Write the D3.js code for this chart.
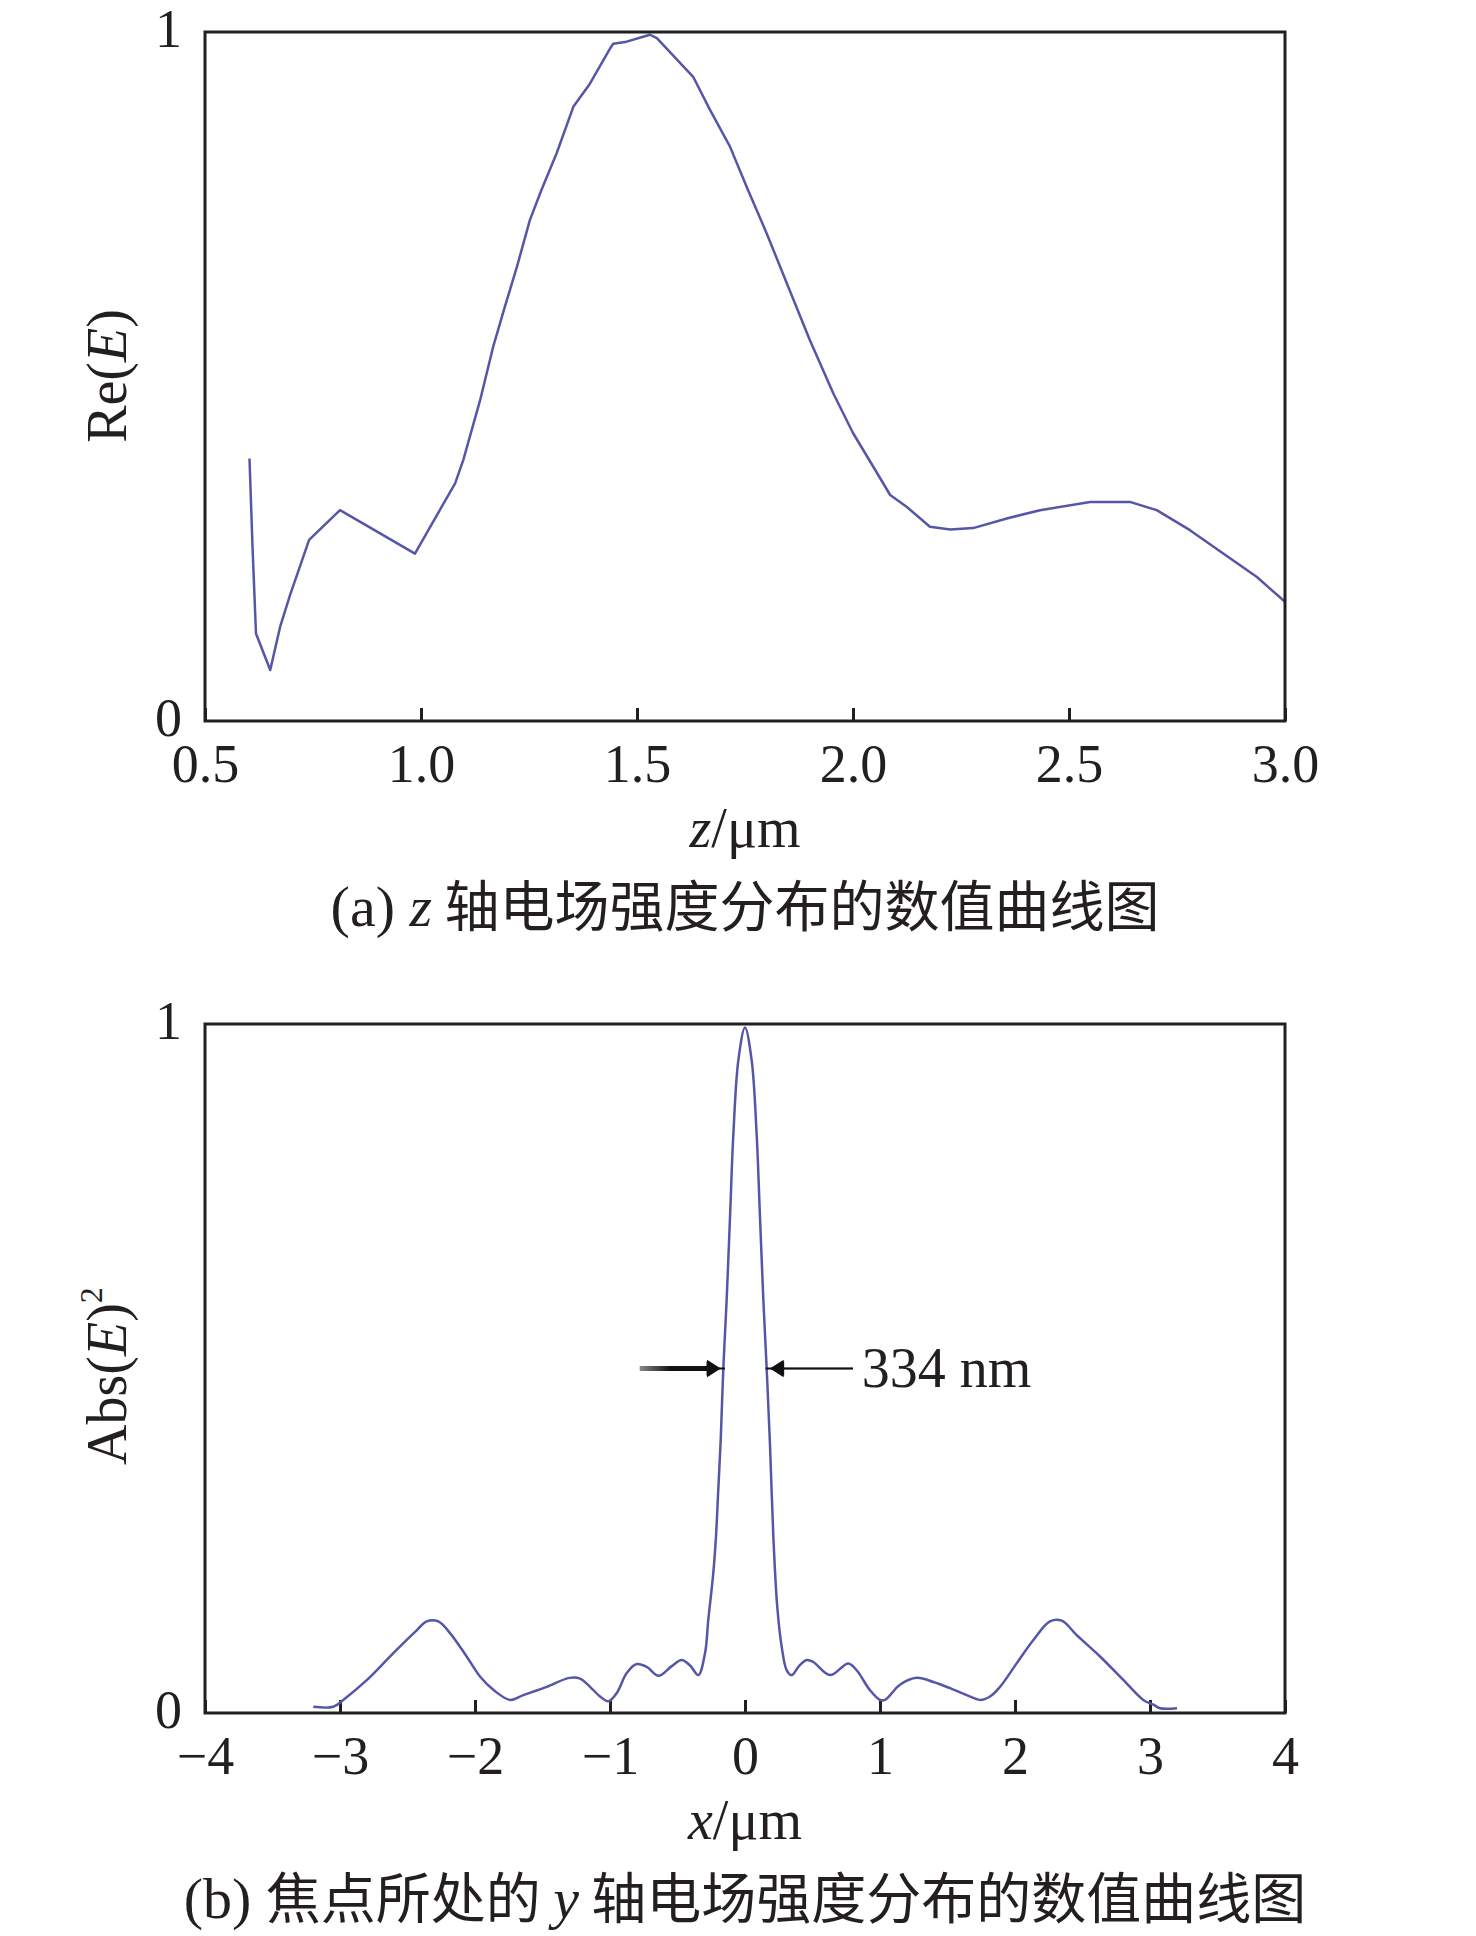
<!DOCTYPE html>
<html lang="zh">
  <head>
    <meta charset="UTF-8" />
    <script src="https://cdn.jsdelivr.net/npm/d3@7"></script>
    <style>
      * {
        margin: 0;
        padding: 0;
      }
      body {
        background: #fff;
      }
      svg text {
        font-family: 'Liberation Serif', 'Noto Sans CJK SC', serif;
        fill: #231f20;
      }
    </style>
    <title>电场强度分布</title>
  </head>
  <body>
    <div id="chart"></div>
  </body>
  <script>
    // (a) z 轴 Re(E)
    const zValues = [
      0.603, 0.61, 0.618, 0.651, 0.674, 0.697, 0.741, 0.8125, 0.986, 1.079,
      1.098, 1.137, 1.167, 1.194, 1.222, 1.252, 1.279, 1.314, 1.353, 1.391,
      1.4375, 1.445, 1.476, 1.53, 1.546, 1.63, 1.669, 1.715, 1.754, 1.8,
      1.847, 1.9, 1.954, 2.0, 2.047, 2.086, 2.124, 2.178, 2.225, 2.278,
      2.356, 2.433, 2.549, 2.641, 2.703, 2.78, 2.857, 2.935, 3.0,
    ];
    const reValues = [
      0.381, 0.253, 0.127, 0.074, 0.137, 0.183, 0.263, 0.306, 0.243, 0.345,
      0.379, 0.466, 0.543, 0.601, 0.659, 0.727, 0.771, 0.824, 0.892, 0.925,
      0.976, 0.983, 0.986, 0.996, 0.991, 0.935, 0.887, 0.834, 0.775, 0.708,
      0.635, 0.553, 0.476, 0.418, 0.369, 0.328, 0.311, 0.282, 0.278, 0.28,
      0.294, 0.306, 0.318, 0.318, 0.306, 0.277, 0.243, 0.209, 0.173,
    ];
    const zTicks = [0.5, 1.0, 1.5, 2.0, 2.5, 3.0];

    // (b) y 轴 Abs(E)^2
    const xValues = [
      -3.198, -3.05, -2.976, -2.8, -2.605, -2.432, -2.358, -2.272, -2.185,
      -2.062, -1.963, -1.86, -1.74, -1.642, -1.469, -1.3, -1.222, -1.148,
      -1.074, -1.012, -0.95, -0.876, -0.802, -0.728, -0.64, -0.543, -0.469,
      -0.407, -0.346, -0.296, -0.272, -0.235, -0.215, -0.198, -0.18, -0.161,
      -0.136, -0.111, -0.086, -0.049, 0, 0.049, 0.086, 0.111, 0.136, 0.161,
      0.185, 0.21, 0.239, 0.272, 0.309, 0.346, 0.4, 0.457, 0.506, 0.63,
      0.765, 0.827, 0.926, 1.0, 1.037, 1.148, 1.272, 1.395, 1.519, 1.642,
      1.741, 1.815, 1.889, 2.012, 2.136, 2.259, 2.346, 2.457, 2.63, 2.802,
      2.95, 3.025, 3.074, 3.2,
    ];
    const absValues = [
      0.009, 0.009, 0.019, 0.048, 0.087, 0.12, 0.133, 0.133, 0.116, 0.082,
      0.053, 0.033, 0.019, 0.026, 0.038, 0.051, 0.05, 0.038, 0.024, 0.017,
      0.029, 0.058, 0.071, 0.067, 0.054, 0.068, 0.077, 0.069, 0.055, 0.087,
      0.135, 0.203, 0.256, 0.324, 0.396, 0.498, 0.599, 0.72, 0.841, 0.948,
      0.995, 0.948, 0.841, 0.72, 0.599, 0.498, 0.39, 0.256, 0.154, 0.096,
      0.062, 0.055, 0.068, 0.077, 0.074, 0.055, 0.072, 0.062, 0.033, 0.019,
      0.019, 0.041, 0.051, 0.045, 0.036, 0.026, 0.019, 0.024, 0.038, 0.072,
      0.106, 0.133, 0.134, 0.113, 0.082, 0.048, 0.019, 0.012, 0.007, 0.007,
    ];
    const xTicks = [-4, -3, -2, -1, 0, 1, 2, 3, 4];

    // FWHM annotation (data units)
    const fwhmLevel = 0.5;
    const fwhmArrowTails = [-0.78, 0.8];
    const fwhmArrowTips = [-0.148, 0.153];
    const fwhmLabel = '334 nm';
    const fwhmLabelX = 0.864;

    const yTicks = [0, 1];

    const width = 1476;
    const height = 1936;
    const left = 205;
    const right = 1285;
    const tickFont = 54;
    const lineColor = '#5656a8';

    const svg = d3
      .select('#chart')
      .append('svg')
      .attr('width', width)
      .attr('height', height);

    const defs = svg.append('defs');
    const grad = defs
      .append('linearGradient')
      .attr('id', 'fadeArrow')
      .attr('x1', '0%')
      .attr('x2', '100%')
      .attr('y1', '0%')
      .attr('y2', '0%');
    grad.append('stop').attr('offset', '0%').attr('stop-color', '#8a8a8a');
    grad.append('stop').attr('offset', '45%').attr('stop-color', '#111');
    grad.append('stop').attr('offset', '100%').attr('stop-color', '#111');

    function drawPanel(opt) {
      const top = opt.top;
      const bottom = top + 689;
      const g = svg.append('g');

      const x = d3.scaleLinear().domain(opt.xDomain).range([left, right]);
      const y = d3.scaleLinear().domain([0, 1]).range([bottom, top]);

      // x axis, ticks pointing inward
      const xAxis = d3
        .axisBottom(x)
        .tickValues(opt.xTicks)
        .tickSizeInner(-13)
        .tickSizeOuter(0)
        .tickFormat(opt.xFormat);
      const xg = g
        .append('g')
        .attr('transform', `translate(0,${bottom})`)
        .call(xAxis);
      xg.select('.domain').remove();
      xg.selectAll('.tick line').attr('stroke', '#231f20').attr('stroke-width', 3);
      xg.selectAll('.tick text')
        .attr('y', 61)
        .attr('dy', null)
        .attr('font-size', tickFont)
        .attr('font-family', 'Liberation Serif')
        .attr('fill', '#231f20');

      // y axis labels only
      const yAxis = d3
        .axisLeft(y)
        .tickValues(yTicks)
        .tickSize(0)
        .tickPadding(23)
        .tickFormat((d) => d);
      const yg = g.append('g').attr('transform', `translate(${left},0)`).call(yAxis);
      yg.select('.domain').remove();
      yg.selectAll('.tick text')
        .attr('dy', '0.26em')
        .attr('font-size', tickFont)
        .attr('font-family', 'Liberation Serif')
        .attr('fill', '#231f20');

      // curve
      const pts = opt.xs.map((v, i) => [v, opt.ys[i]]);
      const line = d3
        .line()
        .x((d) => x(d[0]))
        .y((d) => y(d[1]))
        .curve(opt.curve);
      g.append('path')
        .datum(pts)
        .attr('d', line)
        .attr('fill', 'none')
        .attr('stroke', lineColor)
        .attr('stroke-width', 2.5)
        .attr('stroke-linejoin', 'round');

      // frame
      g.append('rect')
        .attr('x', left)
        .attr('y', top)
        .attr('width', right - left)
        .attr('height', bottom - top)
        .attr('fill', 'none')
        .attr('stroke', '#231f20')
        .attr('stroke-width', 3);

      // y title (rotated)
      const yt = g
        .append('text')
        .attr('transform', `translate(126,${opt.yTitleY}) rotate(-90)`)
        .attr('text-anchor', 'middle')
        .attr('font-size', 56);
      opt.yTitle(yt);

      // x title
      const xt = g
        .append('text')
        .attr('x', (left + right) / 2)
        .attr('y', bottom + 126)
        .attr('text-anchor', 'middle')
        .attr('font-size', 56);
      xt.append('tspan').attr('font-style', 'italic').text(opt.xVar);
      xt.append('tspan').text('/μm');

      // caption
      const cap = g
        .append('text')
        .attr('x', (left + right) / 2)
        .attr('y', bottom + 205)
        .attr('text-anchor', 'middle')
        .attr('font-size', 58);
      opt.caption(cap);

      return { g, x, y };
    }

    // (a)
    drawPanel({
      top: 32,
      xDomain: [0.5, 3.0],
      xTicks: zTicks,
      xFormat: d3.format('.1f'),
      xs: zValues,
      ys: reValues,
      curve: d3.curveLinear,
      xVar: 'z',
      yTitleY: 376,
      yTitle: (t) => {
        t.append('tspan').text('Re(');
        t.append('tspan').attr('font-style', 'italic').text('E');
        t.append('tspan').text(')');
      },
      caption: (t) => {
        t.append('tspan').text('(a) ');
        t.append('tspan').attr('font-style', 'italic').text('z');
        t.append('tspan')
          .attr('font-family', 'Noto Sans CJK SC')
          .attr('font-size', 55)
          .text(' 轴电场强度分布的数值曲线图');
      },
    });

    // (b)
    const pb = drawPanel({
      top: 1024,
      xDomain: [-4, 4],
      xTicks: xTicks,
      xFormat: d3.format('d'),
      xs: xValues,
      ys: absValues,
      curve: d3.curveCatmullRom.alpha(0.5),
      xVar: 'x',
      yTitleY: 1376,
      yTitle: (t) => {
        t.append('tspan').text('Abs(');
        t.append('tspan').attr('font-style', 'italic').text('E');
        t.append('tspan').text(')');
        t.append('tspan').attr('font-size', 32).attr('dy', -24).text('2');
      },
      caption: (t) => {
        t.append('tspan').text('(b) ');
        t.append('tspan')
          .attr('font-family', 'Noto Sans CJK SC')
          .attr('font-size', 55)
          .text('焦点所处的 ');
        t.append('tspan').attr('font-style', 'italic').text('y');
        t.append('tspan')
          .attr('font-family', 'Noto Sans CJK SC')
          .attr('font-size', 55)
          .text(' 轴电场强度分布的数值曲线图');
      },
    });

    // FWHM arrows
    const ay = pb.y(fwhmLevel);
    fwhmArrowTails.forEach((tail, i) => {
      const tx = pb.x(tail);
      const px = pb.x(fwhmArrowTips[i]);
      const dir = Math.sign(px - tx);
      const headBase = px - dir * 17;
      const headTip = px - dir * 6;
      const sw = i === 0 ? 5 : 2.2;
      // shaft as a rect so the fading gradient has a real box
      pb.g
        .append('rect')
        .attr('x', Math.min(tx, headBase))
        .attr('y', ay - sw / 2)
        .attr('width', Math.abs(headBase - tx))
        .attr('height', sw)
        .attr('fill', i === 0 ? 'url(#fadeArrow)' : '#111');
      pb.g
        .append('line')
        .attr('x1', headBase)
        .attr('x2', px)
        .attr('y1', ay)
        .attr('y2', ay)
        .attr('stroke', '#111')
        .attr('stroke-width', 2);
      pb.g
        .append('path')
        .attr(
          'd',
          `M${headBase},${ay - 7}L${headTip},${ay}L${headBase},${ay + 7}Z`
        )
        .attr('fill', '#111')
        .attr('stroke', '#111')
        .attr('stroke-width', 2);
      pb.g
        .append('line')
        .attr('x1', headBase)
        .attr('x2', headBase)
        .attr('y1', ay - 7)
        .attr('y2', ay + 7)
        .attr('stroke', '#111')
        .attr('stroke-width', 3);
    });
    pb.g
      .append('text')
      .attr('x', pb.x(fwhmLabelX))
      .attr('y', ay + 18)
      .attr('font-size', 56)
      .text(fwhmLabel);
  </script>
</html>
